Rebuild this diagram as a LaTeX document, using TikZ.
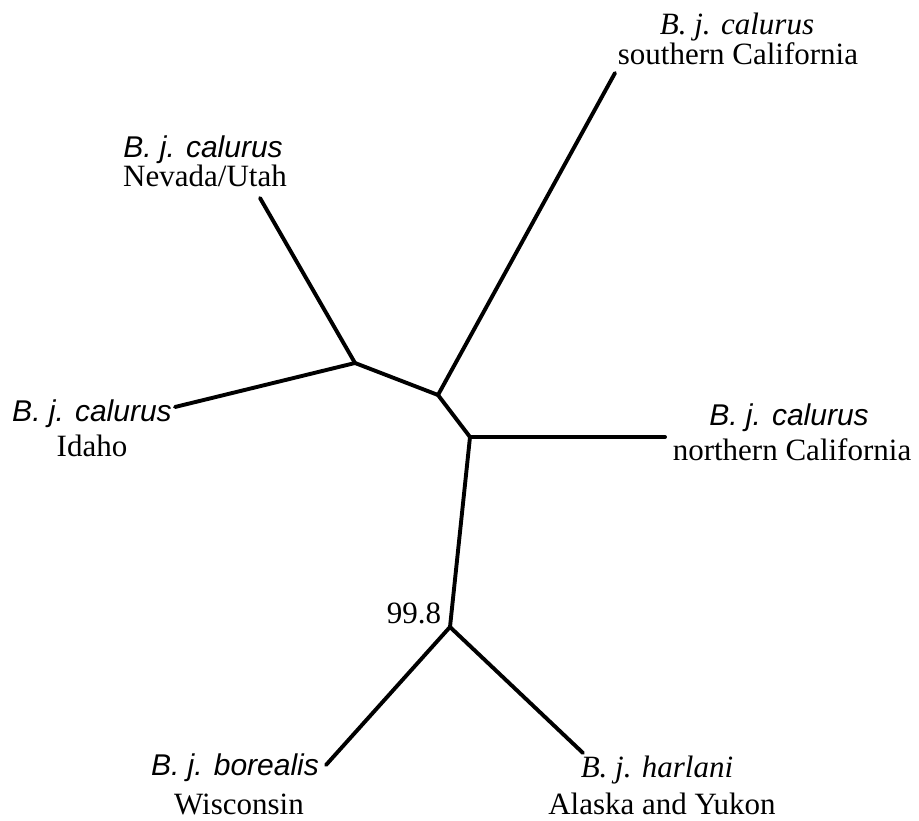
\documentclass[tikz,border=0pt]{standalone}
\usepackage{fontspec}
\setmainfont{Liberation Serif}
\newfontfamily\arialfont{Liberation Sans}
\tikzset{
  branch/.style={line width=3.9pt, line cap=round, line join=round, black},
  sanslab/.style={anchor=base, inner sep=0pt, font=\fontsize{30}{33}\selectfont\arialfont\itshape},
  seriflab/.style={anchor=base, inner sep=0pt, font=\fontsize{31}{34}\selectfont\itshape},
  placelab/.style={anchor=base, inner sep=0pt, font=\fontsize{31}{34}\selectfont},
  pt/.style={inner sep=0pt, minimum size=0pt}
}
\begin{document}
\begin{tikzpicture}[x=1pt, y=-1pt]
\useasboundingbox (0,0) rectangle (919,821);
\fill[white] (0,0) rectangle (919,821);
% internal junctions
\node[pt] (ja) at (355,363) {};
\node[pt] (jb) at (438,395) {};
\node[pt] (jc) at (470,437) {};
\node[pt] (jd) at (450,627) {};
% tips
\node[pt] (tnv) at (260,198) {};
\node[pt] (tid) at (175,407) {};
\node[pt] (tsc) at (615,73) {};
\node[pt] (tnc) at (665,437) {};
\node[pt] (twi) at (326,765) {};
\node[pt] (tak) at (583,753) {};
% branches
\draw[branch] (tnv.center) -- (ja.center);
\draw[branch] (tid.center) -- (ja.center);
\draw[branch] (ja.center) -- (jb.center);
\draw[branch] (tsc.center) -- (jb.center);
\draw[branch] (jb.center) -- (jc.center);
\draw[branch] (jc.center) -- (tnc.center);
\draw[branch] (jc.center) -- (jd.center);
\draw[branch] (jd.center) -- (twi.center);
\draw[branch] (jd.center) -- (tak.center);
% labels
\node[seriflab] (sc1) at (737,35) {B. j. calurus};
\node[placelab] (sc2) at (738,65) {southern California};
\node[sanslab] (nv1) at (203,158) {B. j. calurus};
\node[placelab] (nv2) at (205,187) {Nevada/Utah};
\node[sanslab] (id1) at (92,421) {B. j. calurus};
\node[placelab] (id2) at (92,456) {Idaho};
\node[sanslab] (nc1) at (789,425) {B. j. calurus};
\node[placelab] (nc2) at (792,460) {northern California};
\node[placelab] (bs) at (414,623) {99.8};
\node[sanslab] (wi1) at (235,775) {B. j. borealis};
\node[placelab] (wi2) at (239,814) {Wisconsin};
\node[seriflab] (ak1) at (657,777) {B. j. harlani};
\node[placelab] (ak2) at (662,814) {Alaska and Yukon};
\end{tikzpicture}
\end{document}
